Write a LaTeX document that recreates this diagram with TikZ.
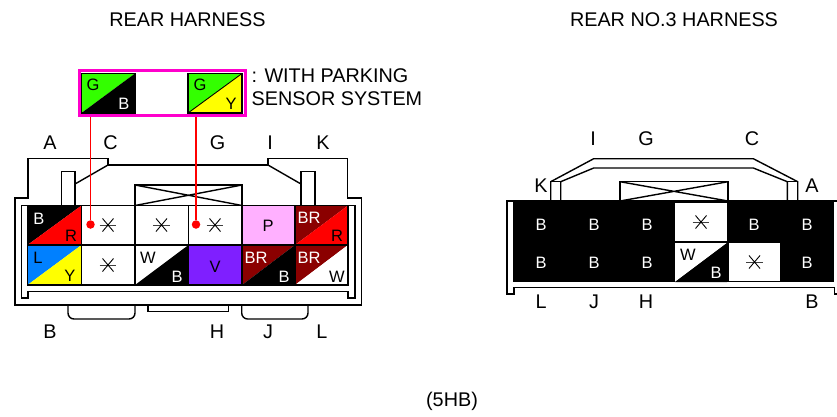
\documentclass[tikz,border=0pt]{standalone}
\usepackage{fontspec}
\setmainfont{Liberation Sans}
\definecolor{cgreen}{HTML}{33FF00}
\definecolor{cred}{HTML}{FF0000}
\definecolor{cblue}{HTML}{0080FF}
\definecolor{cyellow}{HTML}{FFFF00}
\definecolor{cpink}{HTML}{FFB0FF}
\definecolor{cviolet}{HTML}{7F1FFF}
\definecolor{cbrown}{HTML}{8B0000}
\definecolor{cmag}{HTML}{FF00CC}
\tikzset{
  outline/.style={draw=black,line width=1.4pt,line join=miter},
  lbl/.style={font=\fontsize{19.8}{22}\selectfont,inner sep=0pt,anchor=center},
  small/.style={font=\fontsize{16.5}{18}\selectfont,inner sep=0pt,anchor=center},
  wire/.style={draw=cred,line width=1.5pt},
  dotm/.style={circle,fill=cred,inner sep=0pt,minimum size=8.5pt},
}
% \twocell{x0}{y0}{x1}{y1}{upper colour}{lower colour}
\newcommand{\twocell}[6]{%
  \fill[#5] (#1,#4) -- (#1,#2) -- (#3,#2) -- cycle;
  \fill[#6] (#1,#4) -- (#3,#4) -- (#3,#2) -- cycle;
}
\newcommand{\starmark}[2]{%
  \draw[black!75,line width=.9pt] (#1-8.3,#2) -- (#1+8.3,#2);
  \draw[black,line width=.9pt] (#1-5.5,#2-6.5) -- (#1+5.5,#2+6.5) (#1-5.5,#2+6.5) -- (#1+5.5,#2-6.5);
}
\begin{document}
\begin{tikzpicture}[x=1pt,y=-1pt]
\useasboundingbox (0,0) rectangle (837,416);
\fill[white] (0,0) rectangle (837,416);
% titles
\node[lbl] (t1) at (187.5,19.5) {REAR HARNESS};
\node[lbl] (t2) at (674,19.5) {REAR NO.3 HARNESS};
\node[lbl] (t3) at (452,401) {(5HB)};
\node[lbl,anchor=west] (n1) at (251.5,76) {: WITH PARKING};
\node[lbl,anchor=west] (n2) at (251.5,98.5) {SENSOR SYSTEM};
% left housing
\draw[outline,fill=white] (15,198) -- (28,198) -- (28,158.5) -- (108,158.5) -- (108,165) -- (268,165) -- (268,158.5) -- (347.7,158.5) -- (347.7,198) -- (361.7,198) -- (361.7,305) -- (15,305) -- cycle;
\draw[outline] (108,165) -- (75,184) (268,165) -- (301,184);
\draw[outline] (61.5,205.5) -- (61.5,171.7) -- (75,171.7) -- (75,205.5);
\draw[outline] (301,205.5) -- (301,171.7) -- (315,171.7) -- (315,205.5);
\draw[outline] (135,205.5) -- (135,185) -- (242,185) -- (242,205.5);
\draw[outline] (135,185) -- (242,205.5) (135,205.5) -- (242,185);
\draw[outline] (21.7,205.5) -- (355,205.5) -- (355,298) -- (348,298) -- (348,291.7) -- (28,291.7) -- (28,298) -- (21.7,298) -- cycle;
\draw[outline] (68,305) -- (68,313) arc[start angle=180,end angle=90,radius=6] -- (129,319) arc[start angle=90,end angle=0,radius=6] -- (135,305);
\draw[outline] (148,305) -- (148,311.7) -- (228.3,311.7) -- (228.3,305);
\draw[outline] (241.7,305) -- (241.7,313) arc[start angle=180,end angle=90,radius=6] -- (302,319) arc[start angle=90,end angle=0,radius=6] -- (308,305);
% left cells
\twocell{27.5}{205.5}{81.5}{245}{black}{cred}
\twocell{27.5}{245}{81.5}{285}{cblue}{cyellow}
\twocell{135}{245}{188.5}{285}{white}{black}
\fill[cviolet] (188.5,245) rectangle (242,285);
\fill[cpink] (242,205.5) rectangle (295,245);
\twocell{242}{245}{295}{285}{cbrown}{black}
\twocell{295}{205.5}{348}{245}{cbrown}{cred}
\twocell{295}{245}{348}{285}{cbrown}{white}
\draw[outline] (27.5,205.5) rectangle (348,285);
\draw[outline] (27.5,245) -- (348,245);
\foreach \x in {81.5,135,188.5,242,295} \draw[outline] (\x,205.5) -- (\x,285);
\starmark{108}{225}
\starmark{161.5}{225}
\starmark{215}{225}
\starmark{108}{265}
\node[small,text=white] (l1) at (39,219) {B};
\node[small,text=black] (l2) at (71,236) {R};
\node[small,text=black] (l3) at (38,258) {L};
\node[small,text=black] (l4) at (70,276) {Y};
\node[small,text=black] (l5) at (148,258) {W};
\node[small,text=white] (l6) at (177,277) {B};
\node[small,text=black] (l7) at (215,267) {V};
\node[small,text=black] (l8) at (268,226) {P};
\node[small,text=white] (l9) at (256,258) {BR};
\node[small,text=white] (l10) at (284,277) {B};
\node[small,text=white] (l11) at (309,218) {BR};
\node[small,text=black] (l12) at (337,236) {R};
\node[small,text=white] (l13) at (309,258) {BR};
\node[small,text=black] (l14) at (337,277) {W};
% parking boxes
\draw[draw=cmag,line width=3pt,fill=white] (79,70) rectangle (245,115.5);
\twocell{81.5}{73.5}{135}{113}{cgreen}{black}
\twocell{188}{73.5}{242}{113}{cgreen}{cyellow}
\draw[outline,line width=1.8pt] (81.5,73.5) rectangle (135,113);
\draw[outline,line width=1.8pt] (188,73.5) rectangle (242,113);
\draw[black,line width=.9pt] (188,113) -- (242,73.5);
\node[small,text=black] (g1a) at (93,85) {G};
\node[small,text=white] (g1b) at (124,104) {B};
\node[small,text=black] (g2a) at (200,85) {G};
\node[small,text=black] (g2b) at (231,104) {Y};
% red wires
\node[dotm] (d1) at (90.5,224.5) {};
\node[dotm] (d2) at (196,224.5) {};
\coordinate (w1) at (90.5,116.5);
\coordinate (w2) at (196,116.5);
\draw[wire] (w1) -- (d1);
\draw[wire] (w2) -- (d2);
% left letters
\node[lbl] (A) at (50,143) {A};
\node[lbl] (C) at (110.5,143) {C};
\node[lbl] (G) at (217.5,143) {G};
\node[lbl] (I) at (270,143) {I};
\node[lbl] (K) at (323,143) {K};
\node[lbl] (B) at (50,332) {B};
\node[lbl] (H) at (217,332) {H};
\node[lbl] (J) at (268,332) {J};
\node[lbl] (L) at (322,332) {L};
% right connector
\draw[outline] (550.7,201) -- (550.7,181.7) -- (593.7,158.7) -- (753.3,158.7) -- (797.7,181.7) -- (797.7,201);
\draw[outline] (560.7,201) -- (560.7,181.7) -- (593.7,168) -- (753.3,168) -- (787.3,181.7) -- (787.3,201);
\draw[outline] (550.7,181.7) -- (560.7,181.7) (787.3,181.7) -- (797.7,181.7);
\draw[outline] (620,201) -- (620,181.7) -- (728,181.7) -- (728,201);
\draw[outline] (620,181.7) -- (728,201) (620,201) -- (728,181.7);
\draw[outline] (839,201) -- (507,201) -- (507,294) -- (514,294) -- (514,287.7) -- (834.5,287.7) -- (834.5,294) -- (839,294);
\fill[black] (513,201) rectangle (834,282);
\fill[white] (675,203) rectangle (727,241);
\twocell{675}{243}{727}{282}{white}{black}
\fill[white] (729,243) rectangle (780,281);
\starmark{701}{222}
\starmark{754.5}{262}
\node[small,text=white] (r01) at (541,225) {B};
\node[small,text=white] (r02) at (594,225) {B};
\node[small,text=white] (r03) at (647,225) {B};
\node[small,text=white] (r04) at (754,225) {B};
\node[small,text=white] (r05) at (807,225) {B};
\node[small,text=white] (r06) at (541,263) {B};
\node[small,text=white] (r07) at (594,263) {B};
\node[small,text=white] (r08) at (647,263) {B};
\node[small,text=black] (r09) at (688,255) {W};
\node[small,text=white] (r10) at (716,273) {B};
\node[small,text=white] (r11) at (807,263) {B};
\node[lbl] (rI) at (593,139) {I};
\node[lbl] (rG) at (646,139) {G};
\node[lbl] (rC) at (752,139) {C};
\node[lbl] (rK) at (541,186) {K};
\node[lbl] (rA) at (812,186) {A};
\node[lbl] (rL) at (541,302) {L};
\node[lbl] (rJ) at (594,302) {J};
\node[lbl] (rH) at (646,302) {H};
\node[lbl] (rB) at (812,302) {B};
\end{tikzpicture}
\end{document}
